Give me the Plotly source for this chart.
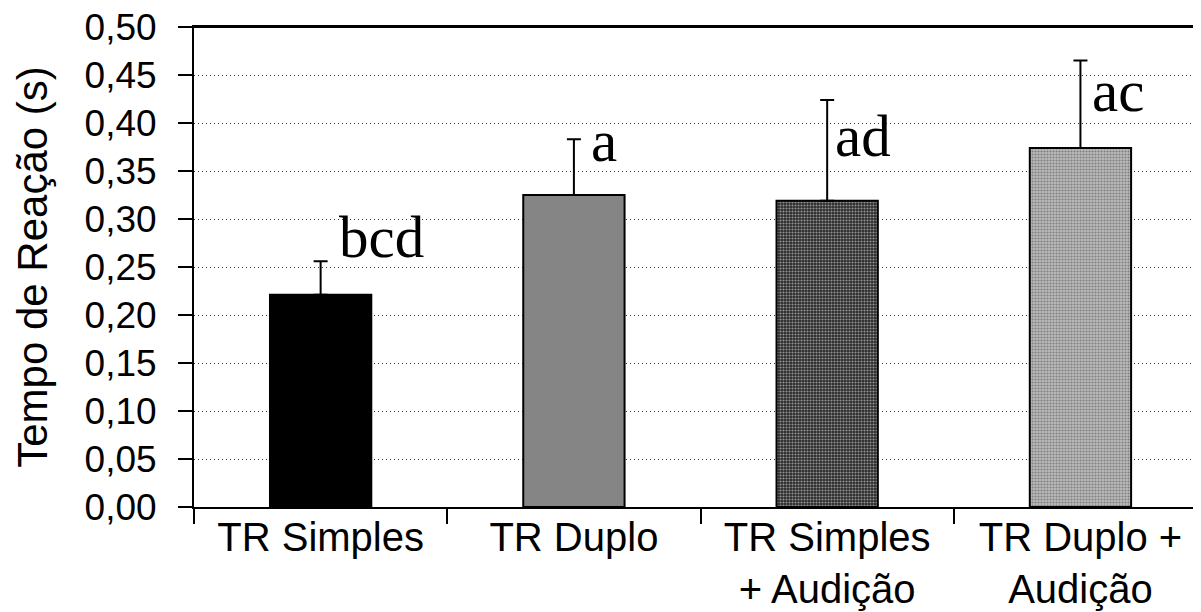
import plotly.graph_objects as go

# ---- data ----
categories = ["TR Simples", "TR Duplo", "TR Simples<br>+ Audição", "TR Duplo +<br>Audição"]
mean_rt = [0.221, 0.325, 0.319, 0.374]
sd_rt = [0.035, 0.058, 0.105, 0.091]
sig_letters = ["bcd", "a", "ad", "ac"]
y_ticks = [0.00, 0.05, 0.10, 0.15, 0.20, 0.25, 0.30, 0.35, 0.40, 0.45, 0.50]

# ---- label placement (styling) ----
label_y = [0.259, 0.359, 0.365, 0.411]
label_xshift = [16, 15, 6, 10]

bg_colors = ["#000000", "#858585", "#2a2a2a", "#bababa"]
fg_colors = ["#000000", "#858585", "#6e6e6e", "#e4e4e4"]
shapes = ["", "", ".", "."]

fig = go.Figure()
fig.add_trace(go.Bar(
    x=categories,
    y=mean_rt,
    width=0.4,
    marker=dict(
        color=bg_colors,
        line=dict(color="black", width=2),
        pattern=dict(shape=shapes, fgcolor=fg_colors, bgcolor=bg_colors,
                     size=3, solidity=0.4, fillmode="overlay"),
    ),
    error_y=dict(type="data", symmetric=False, array=sd_rt,
                 arrayminus=[0] * len(sd_rt),
                 color="black", thickness=2, width=7),
    showlegend=False,
))

for i, (cat, lab) in enumerate(zip(categories, sig_letters)):
    fig.add_annotation(
        x=cat, y=label_y[i], text=lab, showarrow=False,
        xanchor="left", yanchor="bottom",
        xshift=label_xshift[i], yshift=-14,
        font=dict(family="Liberation Serif", size=59, color="black"),
    )

# top border of the plot frame
fig.add_shape(type="line", xref="paper", yref="paper", x0=0, x1=1, y0=1, y1=1,
              line=dict(color="black", width=2))

# page body adds an 8px offset, so the figure is sized to the visible area
fig.update_layout(
    width=1193, height=604,
    margin=dict(l=186, r=0, t=19, b=105, autoexpand=False),
    paper_bgcolor="white", plot_bgcolor="white",
    separators=", ",
    xaxis=dict(
        type="category",
        range=[-0.5, 3.476],
        automargin=False,
        showline=True, linecolor="black", linewidth=2, mirror=True,
        ticks="outside", ticklen=15, tickwidth=1.5, tickcolor="black",
        tickson="boundaries",
        tickfont=dict(family="Liberation Sans", size=40, color="black"),
        ticklabelstandoff=-6,
        ticklabeloverflow="allow",
        showgrid=False,
    ),
    yaxis=dict(
        range=[0, 0.5],
        automargin=False,
        tickvals=y_ticks,
        tickformat=".2f",
        showline=True, linecolor="black", linewidth=2,
        ticks="outside", ticklen=14, tickwidth=1.5, tickcolor="black",
        tickfont=dict(family="Liberation Sans", size=37, color="black"),
        ticklabelstandoff=14,
        ticklabeloverflow="allow",
        showgrid=True, gridcolor="#333333", gridwidth=1, griddash="1px,3px",
        zeroline=False,
        title=dict(text="Tempo de Reação (s)", standoff=24,
                   font=dict(family="Liberation Sans", size=42, color="black")),
    ),
)

fig.write_html("out.html")
